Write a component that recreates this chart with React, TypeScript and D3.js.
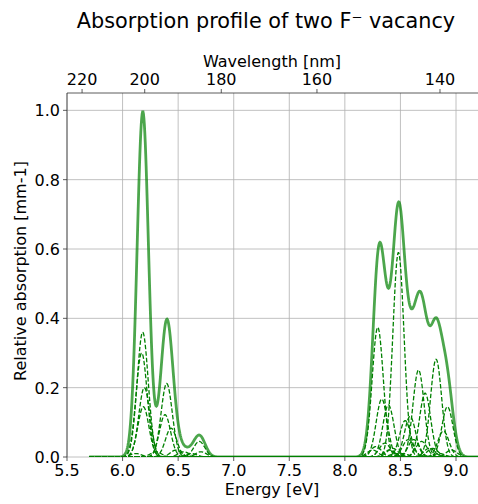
import { useEffect, useRef } from 'react';
import * as d3 from 'd3';

// transition lines (energy in eV, peak height)
const lineEnergy = [
  6.172, 6.181, 6.196, 6.187, 6.397, 6.382, 6.436, 6.69, 6.705,
  6.12, 6.3, 6.48, 6.55, 6.62,
  8.296, 8.332, 8.392, 8.482, 8.543, 8.587, 8.663, 8.722, 8.821, 8.887, 8.923,
  8.25, 8.28, 8.36, 8.4, 8.43, 8.46, 8.52, 8.57, 8.62, 8.69, 8.76, 8.79, 8.85, 8.96,
];
const lineHeight = [
  0.3, 0.36, 0.2, 0.145, 0.212, 0.122, 0.083, 0.045, 0.015,
  0.01, 0.015, 0.02, 0.015, 0.01,
  0.374, 0.167, 0.15, 0.59, 0.105, 0.117, 0.251, 0.184, 0.282, 0.075, 0.145,
  0.02, 0.03, 0.04, 0.02, 0.025, 0.01, 0.01, 0.05, 0.05, 0.045, 0.025, 0.025, 0.01, 0.02,
];
const sigma = 0.05; // gaussian broadening, eV
const energyStart = 5.7;
const energyEnd = 9.3;

const energyTicks = [5.5, 6.0, 6.5, 7.0, 7.5, 8.0, 8.5, 9.0];
const yTicks = [0, 0.2, 0.4, 0.6, 0.8, 1.0];
const wavelengthTicks = [220, 200, 180, 160, 140];
const HC = 1239.84;

const W = 478;
const H = 504;
const FONT = 'DejaVu Sans, sans-serif';

const App = () => {
  const svgRef = useRef<SVGSVGElement>(null);

  useEffect(() => {
    if (!svgRef.current) return;
    const svg = d3.select(svgRef.current);
    svg.selectAll('*').remove();

    const margin = { left: 67, top: 93, bottom: 457 };
    const x = d3.scaleLinear().domain([5.5, 9.0]).range([margin.left, 456]);
    const y = d3.scaleLinear().domain([0, 1.05]).range([margin.bottom, margin.top]);
    const plotRight = x(9.4);

    svg.append('defs').append('clipPath').attr('id', 'plot-clip')
      .append('rect')
      .attr('x', margin.left).attr('y', margin.top)
      .attr('width', plotRight - margin.left).attr('height', margin.bottom - margin.top);

    // grid
    const grid = svg.append('g');
    energyTicks.forEach(t => {
      grid.append('line')
        .attr('x1', x(t)).attr('x2', x(t))
        .attr('y1', margin.top).attr('y2', margin.bottom)
        .attr('stroke', '#b0b0b0').attr('stroke-width', 0.8);
    });
    yTicks.forEach(t => {
      grid.append('line')
        .attr('x1', margin.left).attr('x2', plotRight)
        .attr('y1', y(t)).attr('y2', y(t))
        .attr('stroke', '#b0b0b0').attr('stroke-width', 0.8);
    });

    const energies = d3.range(energyStart, energyEnd, 0.004);
    const gauss = (e: number, c: number, h: number) =>
      h * Math.exp(-((e - c) ** 2) / (2 * sigma * sigma));

    const line = d3.line<[number, number]>().x(d => x(d[0])).y(d => y(d[1]));
    const plot = svg.append('g').attr('clip-path', 'url(#plot-clip)');

    // components
    lineEnergy.forEach((c, i) => {
      const pts: [number, number][] = energies.map(e => [e, gauss(e, c, lineHeight[i])]);
      plot.append('path')
        .attr('d', line(pts))
        .attr('fill', 'none')
        .attr('stroke', '#008000')
        .attr('stroke-width', 1.3)
        .attr('stroke-dasharray', '4.5,2');
    });

    // total
    const total: [number, number][] = energies.map(e => [
      e,
      d3.sum(lineEnergy, (c, i) => gauss(e, c, lineHeight[i])),
    ]);
    plot.append('path')
      .attr('d', line(total))
      .attr('fill', 'none')
      .attr('stroke', '#008000')
      .attr('stroke-opacity', 0.7)
      .attr('stroke-width', 2.8);

    // spines
    svg.append('line')
      .attr('x1', margin.left).attr('x2', margin.left)
      .attr('y1', margin.top).attr('y2', margin.bottom)
      .attr('stroke', '#333').attr('stroke-width', 0.8);
    svg.append('line')
      .attr('x1', margin.left).attr('x2', plotRight)
      .attr('y1', margin.top).attr('y2', margin.top)
      .attr('stroke', '#333').attr('stroke-width', 0.8);

    // bottom axis
    energyTicks.forEach(t => {
      svg.append('line')
        .attr('x1', x(t)).attr('x2', x(t))
        .attr('y1', margin.bottom).attr('y2', margin.bottom + 4)
        .attr('stroke', '#333').attr('stroke-width', 0.8);
      svg.append('text')
        .attr('x', x(t)).attr('y', 476)
        .attr('text-anchor', 'middle')
        .style('font-family', FONT).style('font-size', '16px')
        .text(t.toFixed(1));
    });
    svg.append('text')
      .attr('x', 272).attr('y', 495)
      .attr('text-anchor', 'middle')
      .style('font-family', FONT).style('font-size', '16px')
      .text('Energy [eV]');

    // left axis
    yTicks.forEach(t => {
      svg.append('line')
        .attr('x1', margin.left - 4).attr('x2', margin.left)
        .attr('y1', y(t)).attr('y2', y(t))
        .attr('stroke', '#333').attr('stroke-width', 0.8);
      svg.append('text')
        .attr('x', margin.left - 7).attr('y', y(t) + 6)
        .attr('text-anchor', 'end')
        .style('font-family', FONT).style('font-size', '16px')
        .text(t.toFixed(1));
    });
    svg.append('text')
      .attr('transform', 'translate(26,271) rotate(-90)')
      .attr('text-anchor', 'middle')
      .style('font-family', FONT).style('font-size', '16px')
      .text('Relative absorption [mm-1]');

    // top axis: wavelength
    wavelengthTicks.forEach(wl => {
      const px = x(HC / wl);
      svg.append('line')
        .attr('x1', px).attr('x2', px)
        .attr('y1', margin.top - 4).attr('y2', margin.top)
        .attr('stroke', '#333').attr('stroke-width', 0.8);
      svg.append('text')
        .attr('x', px).attr('y', 85)
        .attr('text-anchor', 'middle')
        .style('font-family', FONT).style('font-size', '16px')
        .text(wl);
    });
    svg.append('text')
      .attr('x', 272).attr('y', 67)
      .attr('text-anchor', 'middle')
      .style('font-family', FONT).style('font-size', '16px')
      .text('Wavelength [nm]');

    // title
    svg.append('text')
      .attr('x', 266).attr('y', 28)
      .attr('text-anchor', 'middle')
      .style('font-family', FONT).style('font-size', '20.8px')
      .text('Absorption profile of two F⁻ vacancy');
  }, []);

  return (
    <div style={{ position: 'absolute', left: 0, top: 0 }}>
      <svg ref={svgRef} width={W} height={H} style={{ display: 'block', background: '#fff' }} />
    </div>
  );
};

export default App;
